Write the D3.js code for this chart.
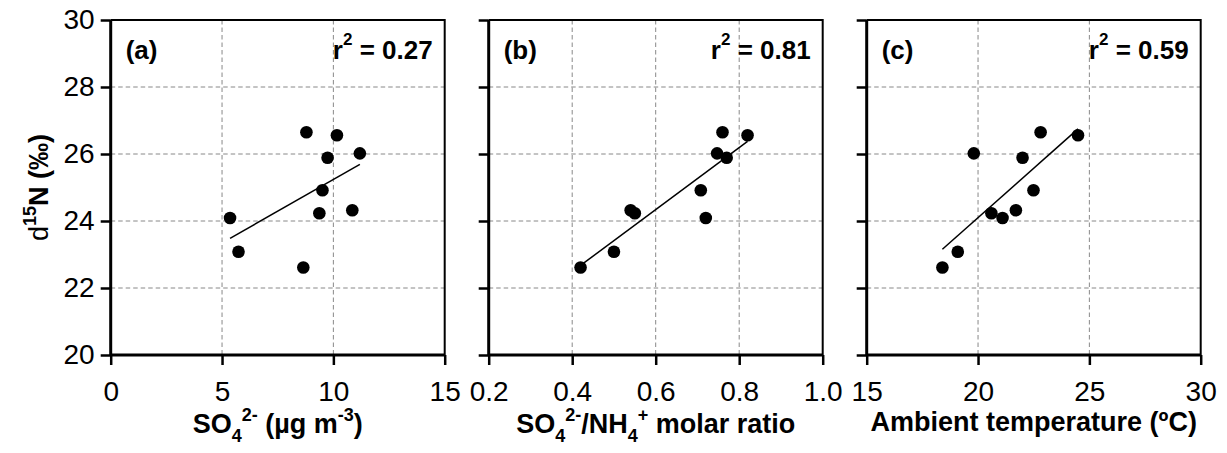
<!DOCTYPE html>
<html>
<head>
<meta charset="utf-8">
<script src="https://cdn.jsdelivr.net/npm/d3@7"></script>
<style>
  body { margin: 0; background: #fff; }
  text { font-family: Arial, "Liberation Sans", sans-serif; }
</style>
</head>
<body>
<div id="canvas"></div>
<script>
// data (same 10 samples in every panel)
const d15N  = [26.65, 26.56, 26.02, 25.89, 24.92, 24.32, 24.23, 24.09, 23.08, 22.61];
const so4   = [8.79, 10.16, 11.19, 9.74, 9.51, 10.85, 9.37, 5.36, 5.74, 8.65];
const ratio = [0.76, 0.82, 0.747, 0.77, 0.708, 0.54, 0.55, 0.72, 0.50, 0.42];
const temp  = [22.81, 24.49, 19.81, 22.0, 22.49, 21.7, 20.6, 21.1, 19.09, 18.4];

const panelLabels = ["(a)", "(b)", "(c)"];
const r2Labels = ["0.27", "0.81", "0.59"];
const xDomains = [[0, 15], [0.2, 1.0], [15, 30]];
const xTicks = [[0, 5, 10, 15], [0.2, 0.4, 0.6, 0.8, 1.0], [15, 20, 25, 30]];
const xGrid = [[5, 10], [0.4, 0.6, 0.8], [20, 25]];
const yTicks = [20, 22, 24, 26, 28, 30];
const yGrid = [22, 24, 26, 28];

// axis titles as runs of text: [text, bold, shift, size]
const xTitles = [
  [["SO", 1, 0, 27], ["4", 1, 9, 18], ["2-", 1, -12, 18], [" (µg m", 1, 0, 27], ["-3", 1, -12, 18], [")", 1, 0, 27]],
  [["SO", 1, 0, 27], ["4", 1, 9, 18], ["2-", 1, -12, 18], ["/NH", 1, 0, 27], ["4", 1, 9, 18], ["+", 1, -12, 18], [" molar ratio", 1, 0, 27]],
  [["Ambient temperature (ºC)", 1, 0, 27]]
];
const yTitle = [["d", 0, 0, 27], ["15", 1, -12, 18], ["N (‰)", 1, 0, 27]];

// dimensions
const width = 1227;
const height = 453;
const plotTop = 20;
const plotBottom = 355;
const plotWidth = 334;
const firstLeft = 110.7;
const panelStep = 378;
const titleY = [433, 433, 431];

const svg = d3.select("#canvas").append("svg")
    .attr("width", width)
    .attr("height", height);

const y = d3.scaleLinear().domain([20, 30]).range([plotBottom, plotTop]);

// writes runs of text with sub/superscripts
function richText(sel, runs) {
  let prev = 0;
  runs.forEach(function(r) {
    sel.append("tspan")
      .attr("dy", r[2] - prev)
      .attr("font-weight", r[1] ? "bold" : "normal")
      .attr("font-size", r[3])
      .text(r[0]);
    prev = r[2];
  });
  return sel;
}

// least squares fit
function fit(xs, ys) {
  const mx = d3.mean(xs), my = d3.mean(ys);
  let sxy = 0, sxx = 0;
  xs.forEach(function(v, i) { sxy += (v - mx) * (ys[i] - my); sxx += (v - mx) * (v - mx); });
  const b = sxy / sxx;
  return function(v) { return my + b * (v - mx); };
}

const xSeries = [so4, ratio, temp];

xSeries.forEach(function(xs, i) {
  const left = firstLeft + i * panelStep;
  const g = svg.append("g").attr("transform", `translate(${left}, 0)`);
  const x = d3.scaleLinear().domain(xDomains[i]).range([0, plotWidth]);

  // grid
  g.selectAll(".gx").data(xGrid[i]).enter().append("line")
    .attr("x1", d => x(d)).attr("x2", d => x(d))
    .attr("y1", plotTop).attr("y2", plotBottom)
    .attr("stroke", "#888").attr("stroke-width", 1).attr("stroke-dasharray", "4.5,3");
  g.selectAll(".gy").data(yGrid).enter().append("line")
    .attr("x1", 0).attr("x2", plotWidth)
    .attr("y1", d => y(d)).attr("y2", d => y(d))
    .attr("stroke", "#888").attr("stroke-width", 1).attr("stroke-dasharray", "4.5,3");

  // top and right border
  g.append("path")
    .attr("d", `M0,${plotTop}H${plotWidth}V${plotBottom}`)
    .attr("fill", "none").attr("stroke", "#000").attr("stroke-width", 2);

  // X axis
  const xAxis = d3.axisBottom(x).tickValues(xTicks[i]).tickSize(10).tickPadding(16)
    .tickFormat(i === 1 ? d3.format(".1f") : d3.format("d"));
  const xg = g.append("g").attr("transform", `translate(0, ${plotBottom})`).call(xAxis);

  // Y axis
  const yAxis = d3.axisLeft(y).tickValues(yTicks).tickSize(10).tickPadding(6)
    .tickFormat(i === 0 ? d3.format("d") : "");
  const yg = g.append("g").call(yAxis);

  [xg, yg].forEach(function(a) {
    a.select(".domain").attr("stroke-width", 3).attr("d", a === xg ? `M0,0H${plotWidth}` : `M0,${plotTop}V${plotBottom}`);
    a.selectAll(".tick line").attr("stroke-width", 2.5);
    a.selectAll(".tick text").attr("font-size", 28).attr("fill", "#000")
      .attr("font-family", "Arial, 'Liberation Sans', sans-serif");
  });

  // regression line
  const f = fit(xs, d15N);
  const ext = d3.extent(xs);
  g.append("line")
    .attr("x1", x(ext[0])).attr("y1", y(f(ext[0])))
    .attr("x2", x(ext[1])).attr("y2", y(f(ext[1])))
    .attr("stroke", "#000").attr("stroke-width", 1.5);

  // points
  g.selectAll(".pt").data(xs).enter().append("circle")
    .attr("cx", d => x(d))
    .attr("cy", (d, j) => y(d15N[j]))
    .attr("r", 6.3)
    .attr("fill", "#000");

  // panel label and r2
  g.append("text").attr("x", 15).attr("y", 59)
    .attr("font-weight", "bold").attr("font-size", 26).text(panelLabels[i]);
  richText(g.append("text").attr("x", plotWidth - 12).attr("y", 59).attr("text-anchor", "end"),
    [["r", 1, 0, 26], ["2", 1, -14, 17], [" = " + r2Labels[i], 1, 0, 26]]);

  // X axis title
  richText(g.append("text").attr("x", plotWidth / 2).attr("y", titleY[i]).attr("text-anchor", "middle"),
    xTitles[i]);
});

// Y axis title
const yLabelX = 48;
const yLabelY = (plotTop + plotBottom) / 2;
richText(svg.append("text")
    .attr("x", yLabelX).attr("y", yLabelY)
    .attr("text-anchor", "middle")
    .attr("transform", `rotate(-90, ${yLabelX}, ${yLabelY})`), yTitle);
</script>
</body>
</html>
